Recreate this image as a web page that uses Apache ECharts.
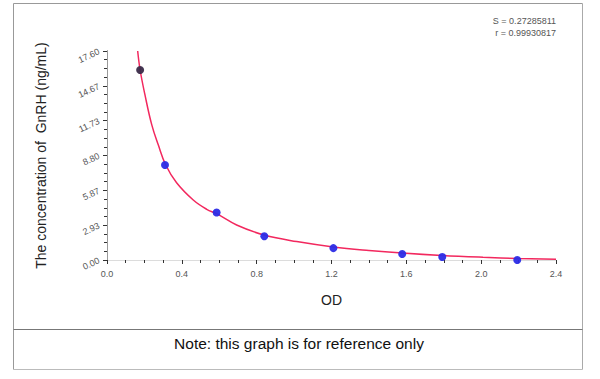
<!DOCTYPE html>
<html>
<head>
<meta charset="utf-8">
<script src="https://cdn.jsdelivr.net/npm/echarts@6/dist/echarts.min.js"></script>
<style>html,body{margin:0;padding:0;background:#fff}#c{width:600px;height:379px}</style>
</head>
<body>
<div id="c"></div>
<script>
// Standard points: OD and concentration (ng/mL)
const pointOD   = [0.177, 0.310, 0.586, 0.841, 1.210, 1.578, 1.792, 2.193];
const pointConc = [16, 8, 4, 2, 1, 0.5, 0.25, 0];
// Fitted curve
const curveOD   = [0.164, 0.177, 0.203, 0.239, 0.274, 0.314, 0.372, 0.461, 0.533, 0.586, 0.693, 0.841, 1.014, 1.210, 1.400, 1.578, 1.790, 2.010, 2.200, 2.400];
const curveConc = [17.6, 16.0, 13.9, 11.4, 9.7, 8.0, 6.5, 5.05, 4.27, 3.9, 2.95, 2.1, 1.55, 1.1, 0.8, 0.58, 0.38, 0.23, 0.13, 0.07];
const yTicks = [0, 2.93, 5.87, 8.80, 11.73, 14.67, 17.60];
const xTicks = [0.0, 0.4, 0.8, 1.2, 1.6, 2.0, 2.4];
const statS = 'S = 0.27285811';
const statR = 'r = 0.99930817';
const note = 'Note: this graph is for reference only';

const chart = echarts.init(document.getElementById('c'), null, {renderer: 'svg'});
const yMax = yTicks[yTicks.length - 1];
const yInt = yMax / (yTicks.length - 1);
const xMax = xTicks[xTicks.length - 1];
const xInt = xTicks[1] - xTicks[0];

chart.setOption({
  animation: false,
  backgroundColor: '#fff',
  grid: {left: 107, right: 44, top: 51, bottom: 119},
  xAxis: [{
    type: 'value', min: 0, max: xMax, interval: xInt,
    name: 'OD', nameLocation: 'middle', nameGap: 33,
    nameTextStyle: {fontSize: 14, color: '#222', fontFamily: 'Liberation Sans'},
    axisLine: {show: true, lineStyle: {color: '#444', width: 1}},
    axisTick: {show: true, inside: false, length: 4, lineStyle: {color: '#333'}},
    minorTick: {show: true, splitNumber: 4, length: 3, lineStyle: {color: '#333'}},
    splitLine: {show: false},
    axisLabel: {fontSize: 9, color: '#555', margin: 9, fontFamily: 'Liberation Sans',
      formatter: v => v.toFixed(1)}
  }, {
    type: 'value', min: 0, max: xMax, position: 'top',
    axisLine: {show: true, lineStyle: {color: '#dcdcdc', width: 1}},
    axisTick: {show: false}, axisLabel: {show: false}, splitLine: {show: false}
  }],
  yAxis: [{
    type: 'value', min: 0, max: yMax, interval: yInt,
    name: 'The concentration of  GnRH (ng/mL)', nameLocation: 'middle', nameGap: 59,
    nameTextStyle: {fontSize: 14, color: '#222', fontFamily: 'Liberation Sans'},
    axisLine: {show: true, lineStyle: {color: '#444', width: 1}},
    axisTick: {show: true, inside: false, length: 4, lineStyle: {color: '#333'}},
    minorTick: {show: true, splitNumber: 4, length: 3, lineStyle: {color: '#333'}},
    splitLine: {show: false},
    axisLabel: {fontSize: 9, color: '#555', margin: 8, rotate: 25, fontFamily: 'Liberation Sans',
      formatter: v => v.toFixed(2)}
  }, {
    type: 'value', min: 0, max: yMax, position: 'right',
    axisLine: {show: true, lineStyle: {color: '#999', width: 1}},
    axisTick: {show: false}, axisLabel: {show: false}, splitLine: {show: false}
  }],
  series: [{
    type: 'line', smooth: 0.4, symbol: 'none', z: 2,
    lineStyle: {color: '#f2285e', width: 1.5},
    data: curveOD.map((x, i) => [x, curveConc[i]])
  }, {
    type: 'scatter', symbolSize: 8, z: 3,
    itemStyle: {color: p => p.dataIndex === 0 ? '#3a2a48' : '#2b2be6', opacity: 0.95},
    data: pointOD.map((x, i) => [x, pointConc[i]])
  }],
  graphic: [
    {type: 'line', shape: {x1: 13.5, y1: 3.5, x2: 582.5, y2: 3.5}, style: {stroke: '#999', lineWidth: 1}, silent: true},
    {type: 'line', shape: {x1: 13.5, y1: 3.5, x2: 13.5, y2: 369.5}, style: {stroke: '#999', lineWidth: 1}, silent: true},
    {type: 'line', shape: {x1: 582.5, y1: 3.5, x2: 582.5, y2: 369.5}, style: {stroke: '#aaa', lineWidth: 1}, silent: true},
    {type: 'line', shape: {x1: 13.5, y1: 369.5, x2: 582.5, y2: 369.5}, style: {stroke: '#bbb', lineWidth: 1}, silent: true},
    {type: 'line', shape: {x1: 13.5, y1: 329.5, x2: 582.5, y2: 329.5}, style: {stroke: '#777', lineWidth: 1}, silent: true},
    {type: 'text', x: 556, y: 21, style: {text: statS, fontSize: 9, fill: '#555', align: 'right', verticalAlign: 'middle', fontFamily: 'Liberation Sans'}},
    {type: 'text', x: 556, y: 33, style: {text: statR, fontSize: 9, fill: '#555', align: 'right', verticalAlign: 'middle', fontFamily: 'Liberation Sans'}},
    {type: 'text', x: 299, y: 343, style: {text: note, fontSize: 15.5, fill: '#111', align: 'center', verticalAlign: 'middle', fontFamily: 'Liberation Sans'}}
  ]
});
</script>
</body>
</html>
